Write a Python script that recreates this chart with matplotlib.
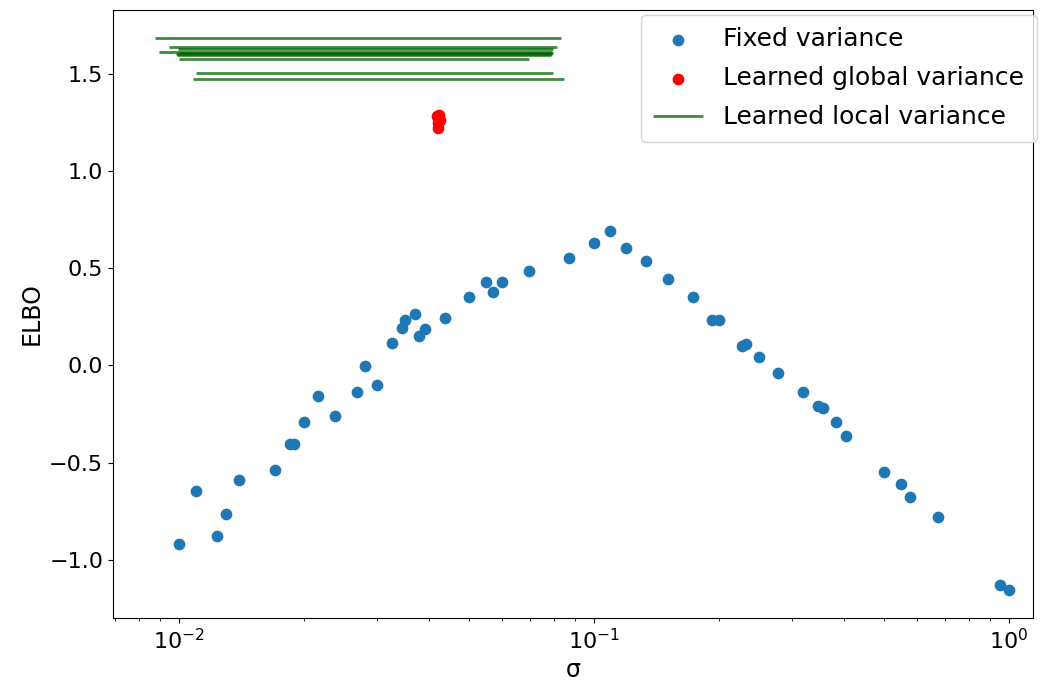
import matplotlib
matplotlib.use("Agg")
import matplotlib.pyplot as plt

# ELBO for a sweep of fixed observation noise levels
fixed_sigma = [0.0100, 0.0110, 0.01235, 0.01296, 0.01396, 0.0170, 0.01849, 0.01892,
               0.0200, 0.02163, 0.02377, 0.02692, 0.0280, 0.02996, 0.03265, 0.03452,
               0.03504, 0.03699, 0.03787, 0.03908, 0.04383, 0.0500, 0.0550, 0.0571,
               0.0600, 0.0697, 0.0870, 0.1000, 0.1096, 0.1197, 0.1334, 0.1508,
               0.1735, 0.1920, 0.2004, 0.2276, 0.2322, 0.2500, 0.2770, 0.3186,
               0.3460, 0.3560, 0.3830, 0.4047, 0.4990, 0.5480, 0.5780, 0.6760,
               0.9510, 0.9980]
fixed_elbo = [-0.919, -0.648, -0.877, -0.764, -0.590, -0.540, -0.403, -0.403,
              -0.289, -0.159, -0.260, -0.138, -0.002, -0.103, 0.114, 0.191,
              0.236, 0.265, 0.149, 0.186, 0.243, 0.350, 0.427, 0.379,
              0.427, 0.487, 0.554, 0.631, 0.689, 0.603, 0.538, 0.445,
              0.350, 0.236, 0.236, 0.099, 0.108, 0.043, -0.037, -0.138,
              -0.210, -0.219, -0.289, -0.362, -0.549, -0.612, -0.677, -0.778,
              -1.130, -1.157]

# Runs with one learned, shared noise level
global_sigma = [0.0418, 0.0423, 0.0425, 0.0420, 0.0421]
global_elbo = [1.285, 1.290, 1.262, 1.248, 1.222]

# Runs with per-point learned noise: ELBO and the spread of learned sigmas
local_elbo = [1.686, 1.636, 1.625, 1.614, 1.608, 1.603, 1.598, 1.576, 1.504, 1.475]
local_sigma_min = [0.00877, 0.00948, 0.00996, 0.00896, 0.00996, 0.00984, 0.00990,
                   0.00998, 0.01097, 0.01079]
local_sigma_max = [0.0833, 0.0816, 0.0795, 0.0792, 0.0797, 0.0793, 0.0790,
                   0.0696, 0.0795, 0.0847]

plt.rcParams["font.size"] = 16

fig = plt.figure(figsize=(10.43, 6.84), dpi=100)
ax = fig.add_subplot(111)
fig.subplots_adjust(left=0.1083, right=0.9904, top=0.9854, bottom=0.0965)

ax.scatter(fixed_sigma, fixed_elbo, s=55, color="#1f77b4", label="Fixed variance", zorder=3)
ax.scatter(global_sigma, global_elbo, s=55, color="red", label="Learned global variance", zorder=3)
ax.hlines(local_elbo, local_sigma_min, local_sigma_max, colors="darkgreen",
          alpha=0.75, linewidth=2, label="Learned local variance")

ax.set_xscale("log")
ax.set_xlim(0.00693, 1.143)
ax.set_xlabel("σ", fontsize=17)
ax.set_ylabel("ELBO", fontsize=17)
ax.legend(loc="upper right", fontsize=18, bbox_to_anchor=(1.004, 0.992),
          borderaxespad=0, borderpad=0.5, labelspacing=0.6)

fig.savefig("out.png", dpi=100)
